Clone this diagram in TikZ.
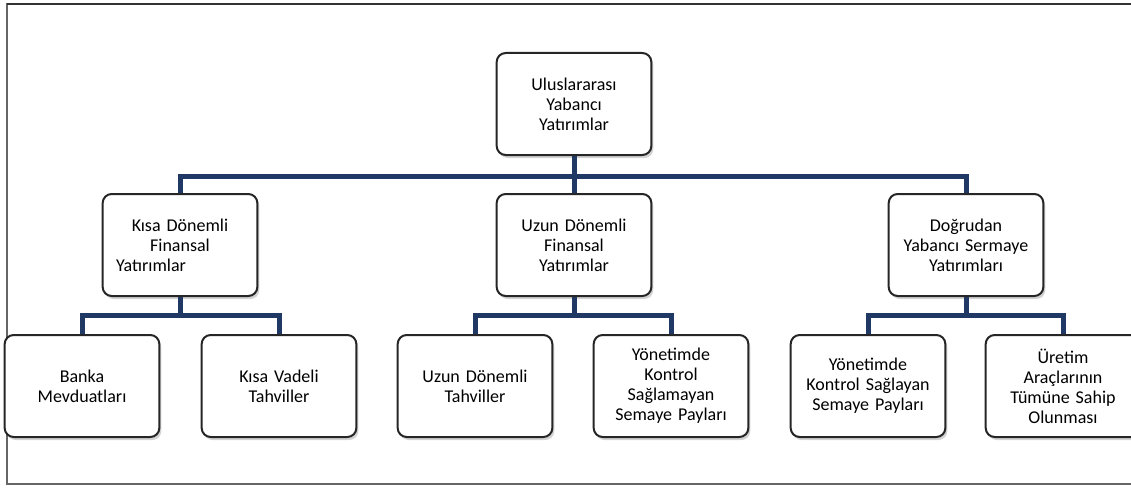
\documentclass[tikz,border=0pt]{standalone}
\usepackage{fontspec}
\setmainfont{Carlito}
\usetikzlibrary{shadows}
\definecolor{busblue}{RGB}{31,56,100}
\tikzset{
box/.style = {draw = black!85, line width = 2pt, rounded corners = 9pt, fill = white,
  minimum width = 152pt, minimum height = 102pt, text width = 148pt, align = center,
  font = \fontsize{18}{20}\selectfont,
  drop shadow = {shadow xshift = 2pt, shadow yshift = -3pt, opacity = .35}},
bus/.style = {draw = busblue, line width = 5pt}
}

\begin{document}
\begin{tikzpicture} [x = 1pt, y = -1pt]
\useasboundingbox (0,0) rectangle (1131,487);
\draw [black!60, line width = 1.5pt] (7,4) rectangle (1145,484);
\draw [black!80, line width = 1.5pt] (7,4) -- (1145,4);
\node[box] (r) at (574,104) {Uluslararası\\ Yabancı\\ Yatırımlar};
\node[box] (k) at (180,245) {Kısa Dönemli\\ Finansal\\ Yatırımlar\hspace*{58pt}\mbox{}};
\node[box] (u) at (574,245) {Uzun Dönemli\\ Finansal\\ Yatırımlar};
\node[box] (d) at (966,245) {Doğrudan\\ Yabancı Sermaye\\ Yatırımları};
\node[box] (k1) at (82,386) {Banka\\ Mevduatları};
\node[box] (k2) at (279,386) {Kısa Vadeli\\ Tahviller};
\node[box] (u1) at (475,386) {Uzun Dönemli\\ Tahviller};
\node[box] (u2) at (671,386) {Yönetimde\\ Kontrol\\ Sağlamayan\\ Semaye Payları};
\node[box] (d1) at (868,386) {Yönetimde\\ Kontrol Sağlayan\\ Semaye Payları};
\node[box] (d2) at (1063,386) {Üretim\\ Araçlarının\\ Tümüne Sahip\\ Olunması};
\coordinate (rb) at (574,176);
\coordinate (kb) at (180,315);
\coordinate (ub) at (574,315);
\coordinate (db) at (966,315);
\draw[bus] (r.south) -- (rb);
\draw[bus] (rb) -| (k.north);
\draw[bus] (rb) -- (u.north);
\draw[bus] (rb) -| (d.north);
\draw[bus] (k.south) -- (kb);
\draw[bus] (kb) -| (k1.north);
\draw[bus] (kb) -| (k2.north);
\draw[bus] (u.south) -- (ub);
\draw[bus] (ub) -| (u1.north);
\draw[bus] (ub) -| (u2.north);
\draw[bus] (d.south) -- (db);
\draw[bus] (db) -| (d1.north);
\draw[bus] (db) -| (d2.north);
\end{tikzpicture}
\end{document}
